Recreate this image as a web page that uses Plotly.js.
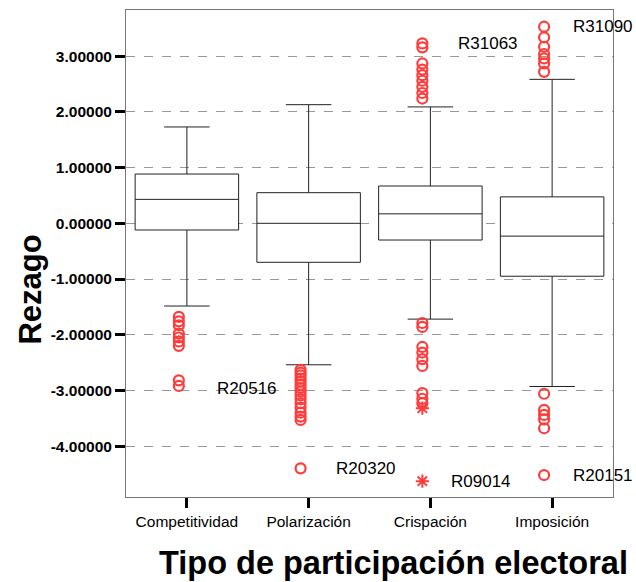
<!DOCTYPE html>
<html>
<head>
<meta charset="utf-8">
<script src="https://cdn.plot.ly/plotly-3.0.1.min.js"></script>
<style>html,body{margin:0;padding:0;background:#fff;}#chart{width:636px;height:582px;}</style>
</head>
<body>
<div id="chart"></div>
<script>
// ---- data ----
var categories = ["Competitividad", "Polarización", "Crispación", "Imposición"];
var q1 = [-0.12, -0.70, -0.30, -0.95];
var medians = [0.43, 0.00, 0.17, -0.23];
var q3 = [0.885, 0.55, 0.67, 0.475];
var lowerWhisker = [-1.485, -2.54, -1.72, -2.93];
var upperWhisker = [1.73, 2.13, 2.09, 2.585];

var outliersCompetitividad = [-1.68, -1.76, -1.83, -1.98, -2.05, -2.12, -2.20, -2.82, -2.92];
var outliersPolarizacion = [-2.63, -2.68, -2.73, -2.79, -2.84, -2.90, -2.96, -3.02, -3.09, -3.16, -3.23, -3.31, -3.40, -3.47, -3.53, -4.40];
var outliersCrispacion = [3.23, 3.16, 2.87, 2.76, 2.66, 2.56, 2.45, 2.34, 2.24, -1.79, -1.86, -2.22, -2.32, -2.44, -2.56, -3.05, -3.15, -3.23];
var outliersImposicion = [3.53, 3.34, 3.17, 3.04, 2.96, 2.87, 2.72, -3.06, -3.35, -3.44, -3.52, -3.68, -4.52];
var extremesCrispacion = [-3.32, -4.63];

var pointLabels = ["R31063", "R31090", "R20516", "R20320", "R09014", "R20151"];
var pointLabelCategory = [2, 3, 1, 1, 2, 3];
var pointLabelValue = [3.23, 3.53, -2.96, -4.40, -4.63, -4.52];

var yTickVals = [-4, -3, -2, -1, 0, 1, 2, 3];
var yTickText = ["-4.00000", "-3.00000", "-2.00000", "-1.00000", "0.00000", "1.00000", "2.00000", "3.00000"];

var xTitle = "Tipo de participación electoral";
var yTitle = "Rezago";

// ---- styles ----
var FONT = "Liberation Sans, Arial, sans-serif";
var RED = "#ff3c3c";
var markerOffset = -0.066;
var labelShift = [26, 19, -30, 25, 19, 19];
var labelAnchor = ["left", "left", "right", "left", "left", "left"];

var traces = [];
categories.forEach(function (c, i) {
  traces.push({
    type: "box",
    x: [i],
    q1: [q1[i]], median: [medians[i]], q3: [q3[i]],
    lowerfence: [lowerWhisker[i]], upperfence: [upperWhisker[i]],
    width: 0.85,
    whiskerwidth: 0.44,
    boxpoints: false,
    fillcolor: "#ffffff",
    line: {color: "#222222", width: 1},
    hoverinfo: "skip",
    showlegend: false
  });
});

var outlierSets = [outliersCompetitividad, outliersPolarizacion, outliersCrispacion, outliersImposicion];
outlierSets.forEach(function (vals, i) {
  traces.push({
    type: "scatter", mode: "markers",
    x: vals.map(function () { return i + markerOffset; }),
    y: vals,
    marker: {symbol: "circle-open", size: 10, color: RED, line: {color: RED, width: 2.2}},
    hoverinfo: "skip", showlegend: false
  });
});
traces.push({
  type: "scatter", mode: "markers",
  x: extremesCrispacion.map(function () { return 2 + markerOffset; }),
  y: extremesCrispacion,
  marker: {symbol: "asterisk-open", size: 11, color: RED, line: {color: RED, width: 2}},
  hoverinfo: "skip", showlegend: false
});

var annotations = pointLabels.map(function (t, k) {
  return {
    xref: "x", yref: "y",
    x: pointLabelCategory[k], y: pointLabelValue[k],
    text: t, showarrow: false,
    xanchor: labelAnchor[k], yanchor: "middle",
    xshift: labelShift[k],
    font: {family: FONT, size: 17, color: "#000"}
  };
});
annotations.push({
  xref: "paper", yref: "paper", x: 0.549, y: -0.135,
  xanchor: "center", yanchor: "middle",
  text: "<b>" + xTitle + "</b>", showarrow: false,
  font: {family: FONT, size: 32.5, color: "#000"}
});
annotations.push({
  xref: "paper", yref: "paper", x: -0.198, y: 0.425,
  xanchor: "center", yanchor: "middle", textangle: -90,
  text: "<b>" + yTitle + "</b>", showarrow: false,
  font: {family: FONT, size: 31, color: "#000"}
});

var layout = {
  width: 636, height: 582,
  margin: {l: 126, r: 23, t: 10, b: 85},
  paper_bgcolor: "#ffffff", plot_bgcolor: "#ffffff",
  showlegend: false,
  xaxis: {
    range: [-0.5, 3.5],
    tickvals: [0, 1, 2, 3], ticktext: categories,
    ticks: "outside", ticklen: 10, tickwidth: 3, tickcolor: "#000",
    showgrid: false, zeroline: false,
    showline: true, mirror: true, linecolor: "#777", linewidth: 1,
    tickfont: {family: FONT, size: 15.5, color: "#000"}
  },
  yaxis: {
    range: [-4.914, 3.83],
    tickvals: yTickVals, ticktext: yTickText,
    ticks: "outside", ticklen: 10, tickwidth: 3, tickcolor: "#000",
    showgrid: true, gridcolor: "#999", gridwidth: 1, griddash: "dash",
    zeroline: false,
    showline: true, mirror: true, linecolor: "#777", linewidth: 1,
    tickfont: {family: FONT, size: 15.5, color: "#000", weight: "bold"}
  },
  annotations: annotations
};

Plotly.newPlot("chart", traces, layout, {displayModeBar: false, staticPlot: true});
</script>
</body>
</html>
